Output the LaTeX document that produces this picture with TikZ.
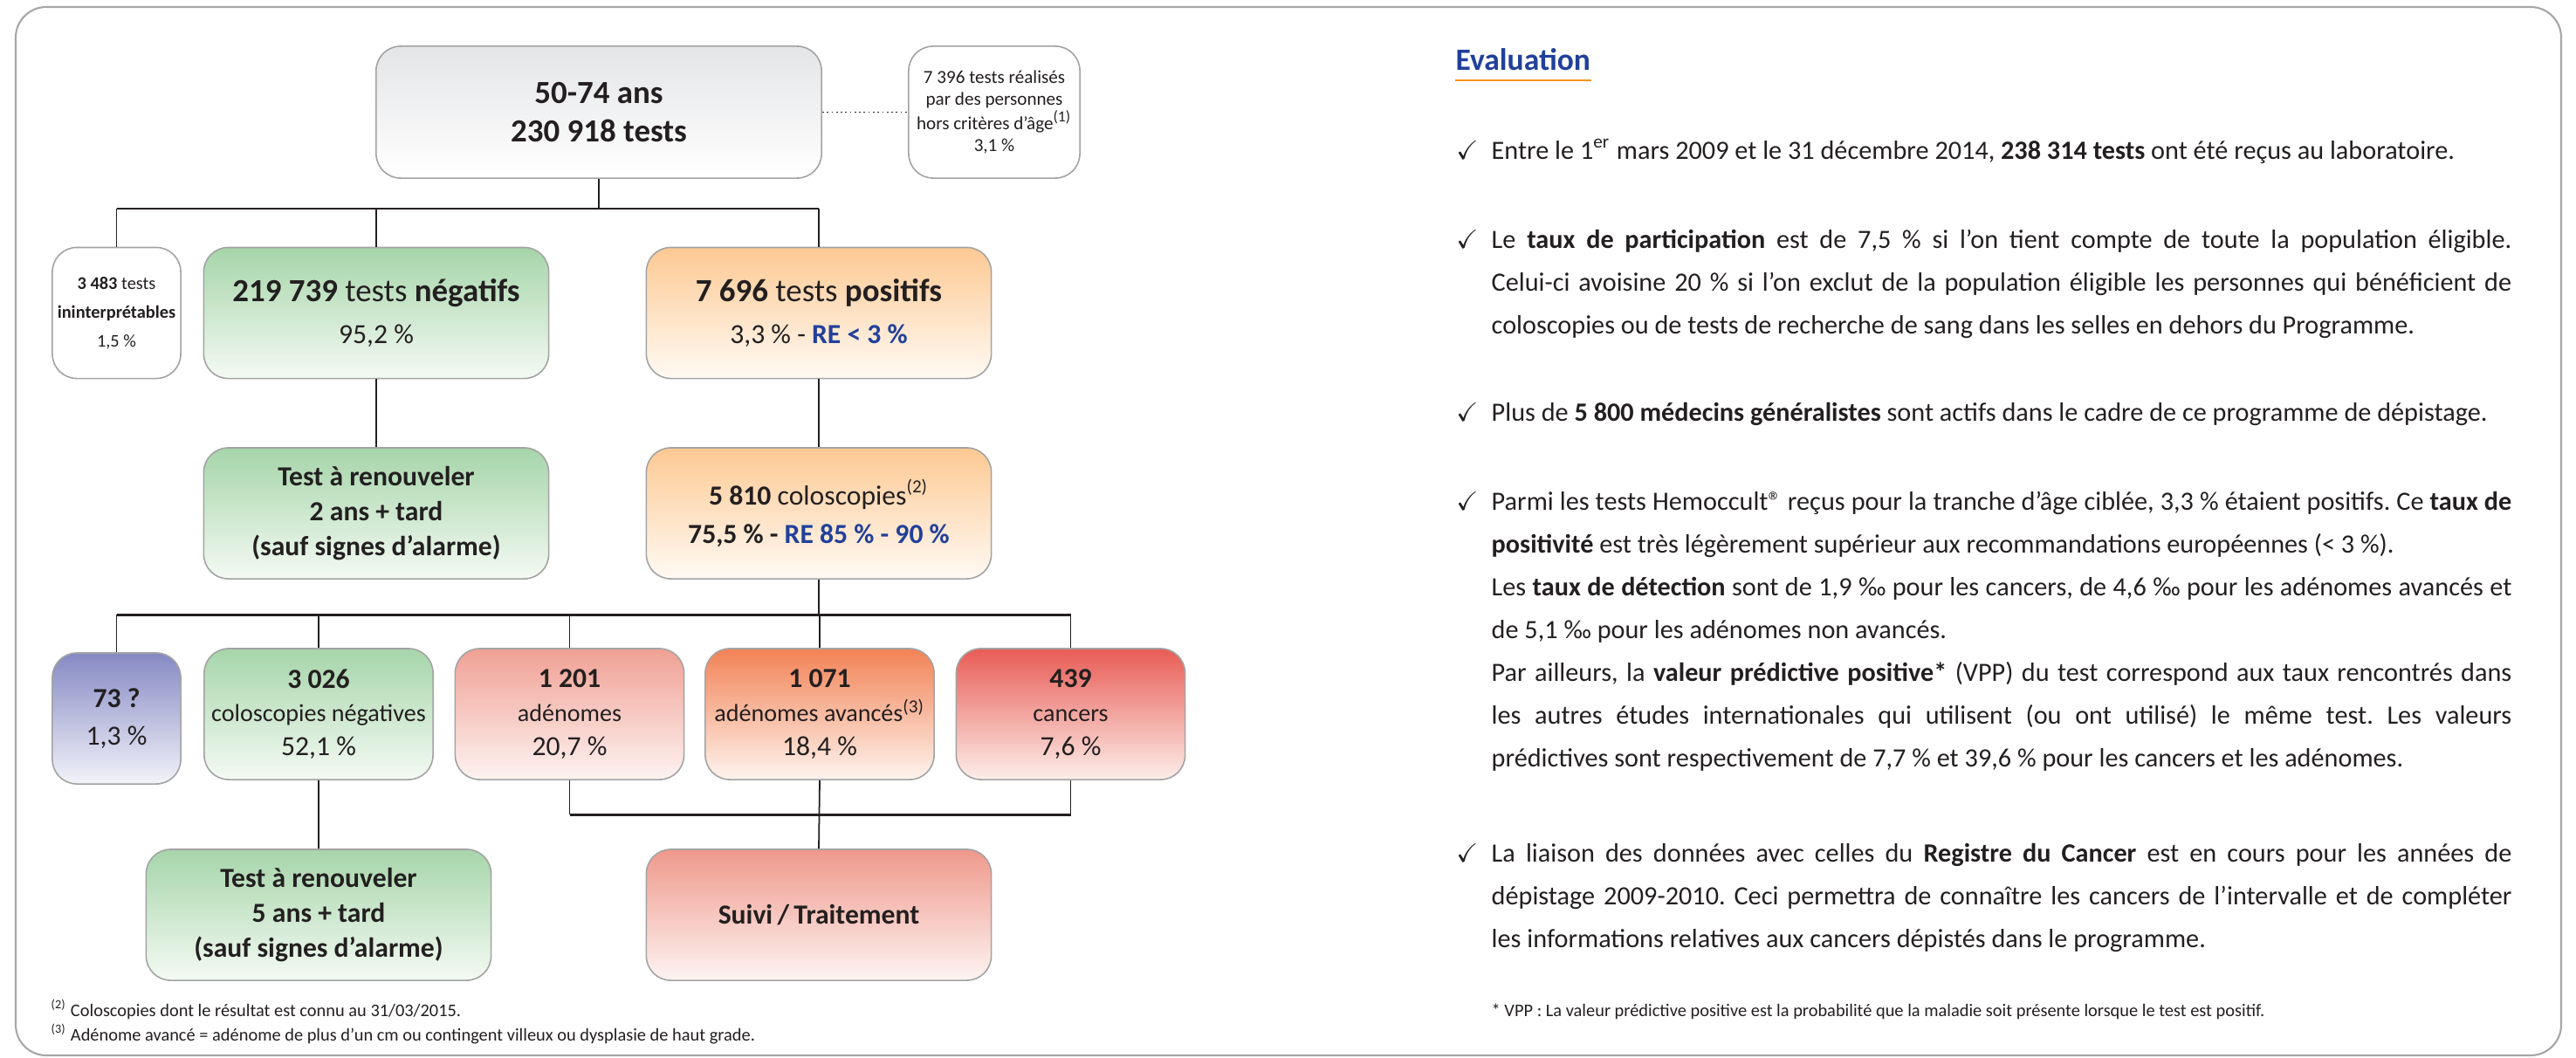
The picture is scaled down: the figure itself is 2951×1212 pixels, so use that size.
\documentclass[tikz,border=0pt]{standalone}
\usepackage{fontspec}
\setmainfont{Carlito}
\usepackage{amssymb}

\hyphenpenalty=10000
\exhyphenpenalty=10000
\frenchspacing

\definecolor{texte}{HTML}{231F20}
\definecolor{bord}{HTML}{A3A3A3}
\definecolor{cadregris}{HTML}{A6A6A6}
\definecolor{bleu}{HTML}{21409A}
\definecolor{orangetrait}{HTML}{F7941D}
\definecolor{grisH}{HTML}{E4E5E7}
\definecolor{vertH}{HTML}{A6D5A9}
\definecolor{vertB}{HTML}{F4FAF4}
\definecolor{orangeH}{HTML}{FDC993}
\definecolor{orangeB}{HTML}{FFFAF4}
\definecolor{violetH}{HTML}{8589C3}
\definecolor{violetB}{HTML}{F3F3FA}
\definecolor{roseH}{HTML}{F0A094}
\definecolor{roseB}{HTML}{FDF3F1}
\definecolor{corailH}{HTML}{F28255}
\definecolor{corailB}{HTML}{FEF4EE}
\definecolor{rougeH}{HTML}{E85C55}
\definecolor{rougeB}{HTML}{FDEEEA}
\definecolor{suiviH}{HTML}{EF988B}
\definecolor{suiviB}{HTML}{FDF4F2}

\newcommand{\taillegrand}{\fontsize{10.5}{12.5}\selectfont}
\newcommand{\taillemoyen}{\fontsize{9}{11.4}\selectfont}
\newcommand{\taillepetit}{\fontsize{8}{11}\selectfont}
\newcommand{\taillehors}{\fontsize{6}{6.9}\selectfont}
\newcommand{\tailleinint}{\fontsize{5.8}{9.4}\selectfont}
\newcommand{\taillenote}{\fontsize{5.8}{8}\selectfont}
\newcommand{\taillecorps}{\fontsize{8.6}{13.9}\selectfont}

\begin{document}
\begin{tikzpicture}[x=0.01cm, y=-0.01cm,
        every node/.append style={text=texte},
        boite/.style={draw=bord, line width=0.45pt, rounded corners=0.28cm, inner sep=0pt, align=center},
        blanc/.style={boite, fill=white},
        gris/.style={boite, top color=grisH, bottom color=white},
        vert/.style={boite, top color=vertH, bottom color=vertB},
        orange/.style={boite, top color=orangeH, bottom color=orangeB},
        violet/.style={boite, top color=violetH, bottom color=violetB},
        rose/.style={boite, top color=roseH, bottom color=roseB},
        corail/.style={boite, top color=corailH, bottom color=corailB},
        rouge/.style={boite, top color=rougeH, bottom color=rougeB},
        suivi/.style={boite, top color=suiviH, bottom color=suiviB},
        large/.style={minimum width=3.95cm, minimum height=1.5cm},
        etroit/.style={minimum width=1.47cm, minimum height=1.5cm},
        moyen/.style={minimum width=2.62cm, minimum height=1.5cm},
        trait/.style={draw=texte, line width=0.5pt},
        barre/.style={draw=texte, line width=0.85pt},
        corps/.style={anchor=north west, inner sep=0pt, text width=11.68cm, align=justify, font=\taillecorps}
    ]
    \useasboundingbox (0,0) rectangle (2951,1212);
    \draw[draw=cadregris, line width=0.6pt, rounded corners=0.35cm] (18,8) rectangle (2934,1209);

    % arbre
    \node[gris, minimum width=5.1cm, minimum height=1.51cm, font=\taillegrand\bfseries] (age) at (686,128.5) {50-74 ans\\230 918 tests};
    \node[blanc, minimum width=1.96cm, minimum height=1.51cm, font=\taillehors] (hors) at (1139,128.5)
        {7 396 tests réalisés\\par des personnes\\hors critères d’âge\textsuperscript{(1)}\\3,1 \%};

    \node[blanc, etroit, font=\tailleinint] (ininterp) at (133.5,358.5) {\textbf{3 483} tests\\\textbf{ininterprétables}\\1,5 \%};
    \node[vert, large, font=\taillegrand] (neg) at (431,358.5) {\textbf{219 739} tests \textbf{négatifs}\\[1.2pt]{\taillemoyen 95,2 \%}};
    \node[orange, large, font=\taillegrand] (pos) at (938,358.5)
        {\textbf{7 696} tests \textbf{positifs}\\[1.2pt]{\taillemoyen 3,3 \% - \textbf{\textcolor{bleu}{RE < 3 \%}}}};

    \node[vert, large, font=\taillemoyen\bfseries] (renouv2) at (431,588) {Test à renouveler\\2 ans + tard\\(sauf signes d’alarme)};
    \node[orange, large, font=\taillemoyen] (colo) at (938,588)
        {\textbf{5 810} coloscopies\textsuperscript{(2)}\\[1.1pt]\textbf{75,5 \% - \textcolor{bleu}{RE 85 \% - 90 \%}}};

    \node[violet, etroit, font=\taillepetit] (inconnu) at (133.5,823) {{\taillemoyen\textbf{73 ?}}\\[1pt]{\taillemoyen 1,3 \%}};
    \node[vert, moyen, font=\taillepetit] (colneg) at (365,818) {{\taillemoyen\textbf{3 026}}\\coloscopies négatives\\{\taillemoyen 52,1 \%}};
    \node[rose, moyen, font=\taillepetit] (aden) at (652.5,818) {{\taillemoyen\textbf{1 201}}\\adénomes\\{\taillemoyen 20,7 \%}};
    \node[corail, moyen, font=\taillepetit] (adenav) at (939,818) {{\taillemoyen\textbf{1 071}}\\adénomes avancés\textsuperscript{(3)}\\{\taillemoyen 18,4 \%}};
    \node[rouge, moyen, font=\taillepetit] (canc) at (1226.5,818) {{\taillemoyen\textbf{439}}\\cancers\\{\taillemoyen 7,6 \%}};

    \node[vert, large, font=\taillemoyen\bfseries] (renouv5) at (365,1048) {Test à renouveler\\5 ans + tard\\(sauf signes d’alarme)};
    \node[suivi, large, font=\taillemoyen\bfseries] (traite) at (938,1048) {Suivi\,/\,Traitement};

    \coordinate (b1) at (0,239);
    \coordinate (b2) at (0,704);
    \coordinate (b3) at (0,933);

    \draw[trait, densely dotted] (age.east) -- (hors.west);
    \draw[trait] (age.south) -- (age.south |- b1);
    \draw[barre] (ininterp.north |- b1) -- (pos.north |- b1);
    \foreach \n in {ininterp,neg,pos}
        \draw[trait] (\n.north |- b1) -- (\n.north);
    \draw[trait] (neg.south) -- (renouv2.north);
    \draw[trait] (pos.south) -- (colo.north);

    \draw[trait] (colo.south) -- (colo.south |- b2);
    \draw[barre] (inconnu.north |- b2) -- (canc.north |- b2);
    \foreach \n in {inconnu,colneg,aden,adenav,canc}
        \draw[trait] (\n.north |- b2) -- (\n.north);

    \draw[trait] (colneg.south) -- (renouv5.north);
    \foreach \n in {aden,canc}
        \draw[trait] (\n.south) -- (\n.south |- b3);
    \draw[barre] (aden.south |- b3) -- (canc.south |- b3);
    \draw[trait] (adenav.south) -- (traite.north);

    \node[anchor=base west, inner sep=0pt, font=\taillenote] (note2) at (58,1164)
        {\textsuperscript{(2)} Coloscopies dont le résultat est connu au 31/03/2015.};
    \node[anchor=base west, inner sep=0pt, font=\taillenote] (note3) at (58,1192)
        {\textsuperscript{(3)} Adénome avancé = adénome de plus d’un cm ou contingent villeux ou dysplasie de haut grade.};

    % evaluation
    \node[anchor=base west, inner sep=0pt, font=\fontsize{10.1}{12}\selectfont\bfseries, text=bleu] (eval) at (1667,80.6) {Evaluation};
    \draw[draw=orangetrait, line width=0.65pt] ([yshift=-3pt]eval.south west) -- ([yshift=-3pt]eval.south east);

    \foreach \y in {182,284,482,584,987}
        \node[anchor=base, inner sep=0pt, font=\taillecorps] (coche\y) at (1681,\y) {$\checkmark$};

    \node[corps] (p1) at (1708,148) {\strut Entre le 1\textsuperscript{er} mars 2009 et le 31 décembre 2014, \textbf{238 314 tests} ont été reçus au laboratoire.};
    \node[corps] (p2) at (1708,250) {\strut Le \textbf{taux de participation} est de 7,5~\% si l’on tient compte de toute la population éligible.\linebreak
        Celui-ci avoisine 20~\% si l’on exclut de la population éligible les personnes qui bénéficient de\linebreak
        coloscopies ou de tests de recherche de sang dans les selles en dehors du Programme.};
    \node[corps] (p3) at (1708,448) {\strut Plus de \textbf{5 800 médecins généralistes} sont actifs dans le cadre de ce programme de dépistage.};
    \node[corps] (p4) at (1708,550) {\strut Parmi les tests Hemoccult® reçus pour la tranche d’âge ciblée, 3,3~\% étaient positifs. Ce \textbf{taux de}\linebreak
        \textbf{positivité} est très légèrement supérieur aux recommandations européennes (<~3~\%).\\
        Les \textbf{taux de détection} sont de 1,9~‰ pour les cancers, de 4,6~‰ pour les adénomes avancés et\linebreak
        de 5,1~‰ pour les adénomes non avancés.\\
        Par ailleurs, la \textbf{valeur prédictive positive*} (VPP) du test correspond aux taux rencontrés dans\linebreak
        les autres études internationales qui utilisent (ou ont utilisé) le même test. Les valeurs\linebreak
        prédictives sont respectivement de 7,7~\% et 39,6~\% pour les cancers et les adénomes.};
    \node[corps] (p5) at (1708,953) {\strut La liaison des données avec celles du \textbf{Registre du Cancer} est en cours pour les années de\linebreak
        dépistage 2009-2010. Ceci permettra de connaître les cancers de l’intervalle et de compléter\linebreak
        les informations relatives aux cancers dépistés dans le programme.};

    \node[anchor=base west, inner sep=0pt, font=\taillenote] (vpp) at (1708,1164)
        {* VPP : La valeur prédictive positive est la probabilité que la maladie soit présente lorsque le test est positif.};
\end{tikzpicture}
\end{document}
